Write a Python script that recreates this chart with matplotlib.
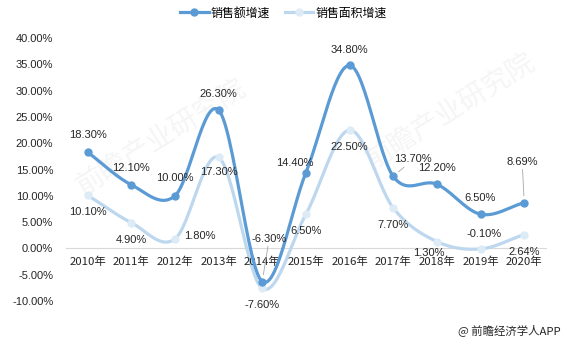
import matplotlib
matplotlib.use("Agg")
import matplotlib.pyplot as plt
from matplotlib.lines import Line2D
import numpy as np

plt.rcParams['font.family'] = ['Liberation Sans', 'Noto Sans CJK SC', 'DejaVu Sans']

# datos
anios = ['2010年', '2011年', '2012年', '2013年', '2014年', '2015年',
         '2016年', '2017年', '2018年', '2019年', '2020年']
ventas = [18.3, 12.1, 10.0, 26.3, -6.3, 14.4, 34.8, 13.7, 12.2, 6.5, 8.69]
area = [10.1, 4.9, 1.8, 17.3, -7.6, 6.5, 22.5, 7.7, 1.3, -0.1, 2.64]
etiq_ventas = ['18.30%', '12.10%', '10.00%', '26.30%', '-6.30%', '14.40%',
               '34.80%', '13.70%', '12.20%', '6.50%', '8.69%']
etiq_area = ['10.10%', '4.90%', '1.80%', '17.30%', '-7.60%', '6.50%',
             '22.50%', '7.70%', '1.30%', '-0.10%', '2.64%']
yticks = [-10, -5, 0, 5, 10, 15, 20, 25, 30, 35, 40]

# desplazamiento de etiquetas (pixeles)
off_ventas = [(0, 17), (0, 17), (0, 18), (0, 16), (7, 43), (-11, 10),
              (0, 15), (20, 17), (0, 16), (0, 16), (-2, 41)]
off_area = [(0, -17), (0, -17), (25, 3), (0, -15), (0, -17), (0, -17),
            (0, -17), (0, -17), (-8, -11), (4, 15), (0, -17)]
guia_ventas = [4, 7, 10]

azul = '#5B9BD5'
azul_claro = '#BDD7EE'
texto = '#262626'
tam = 8
cjk = ['Noto Sans CJK SC']


def suavizar(x, y, n=30):
    """Curva suave tipo Excel (Catmull-Rom) que pasa por los puntos."""
    x = np.asarray(x, float)
    y = np.asarray(y, float)
    px = np.concatenate([[2 * x[0] - x[1]], x, [2 * x[-1] - x[-2]]])
    py = np.concatenate([[2 * y[0] - y[1]], y, [2 * y[-1] - y[-2]]])
    xs, ys = [], []
    t = np.linspace(0, 1, n)
    for i in range(1, len(px) - 2):
        for p, out in ((px, xs), (py, ys)):
            p0, p1, p2, p3 = p[i - 1], p[i], p[i + 1], p[i + 2]
            m1 = (p2 - p0) / 2
            m2 = (p3 - p1) / 2
            h = ((2 * t**3 - 3 * t**2 + 1) * p1 + (t**3 - 2 * t**2 + t) * m1
                 + (-2 * t**3 + 3 * t**2) * p2 + (t**3 - t**2) * m2)
            out.extend(h)
    return np.array(xs), np.array(ys)


fig = plt.figure(figsize=(5.67, 3.44), dpi=100)
ax = fig.add_axes([0.116, 0.125, 0.847, 0.7645])

x = np.arange(len(anios))

# marca de agua
ax.text(0.2, 0.62, '前瞻产业研究院', transform=ax.transAxes, fontsize=20,
        color='#F5F5F5', rotation=32, ha='center', va='center', zorder=0, family=cjk)
ax.text(0.8, 0.72, '前瞻产业研究院', transform=ax.transAxes, fontsize=20,
        color='#F5F5F5', rotation=32, ha='center', va='center', zorder=0, family=cjk)

xs, ys = suavizar(x, area)
ax.plot(xs, ys, color=azul_claro, lw=2.3, solid_capstyle='round', zorder=3)
ax.plot(x, area, 'o', color='#DDEBF7', ms=5, zorder=4)
xs, ys = suavizar(x, ventas)
ax.plot(xs, ys, color=azul, lw=2.3, solid_capstyle='round', zorder=5)
ax.plot(x, ventas, 'o', color=azul, ms=5, zorder=6)

for i in range(len(x)):
    dx, dy = off_ventas[i]
    props = dict(arrowstyle='-', color='#A6A6A6', lw=0.6, shrinkA=0, shrinkB=5) if i in guia_ventas else None
    ax.annotate(etiq_ventas[i], (x[i], ventas[i]), xytext=(dx, dy),
                textcoords='offset pixels', ha='center', va='center',
                fontsize=tam, color=texto, arrowprops=props, zorder=7)
    dx, dy = off_area[i]
    ax.annotate(etiq_area[i], (x[i], area[i]), xytext=(dx, dy),
                textcoords='offset pixels', ha='center', va='center',
                fontsize=tam, color=texto, zorder=7)

ax.set_xlim(-0.5, len(anios) - 0.5)
ax.set_ylim(-10, 40)
ax.set_yticks(yticks)
ax.set_yticklabels([f'{v:.2f}%' for v in yticks], fontsize=tam, color=texto)
ax.set_xticks(x)
ax.set_xticklabels([])
# etiquetas del eje x junto a la linea de cero
for i in range(len(x)):
    ax.annotate(anios[i], (x[i], 0), xytext=(0, -13), textcoords='offset pixels',
                ha='center', va='center', fontsize=8.2, color=texto, family=cjk)
for s in ['top', 'right', 'left']:
    ax.spines[s].set_visible(False)
ax.spines['bottom'].set_position(('data', 0))
ax.spines['bottom'].set_color('#D9D9D9')
ax.tick_params(axis='both', length=0)
ax.tick_params(axis='y', pad=9)
ax.patch.set_alpha(0)

h1 = Line2D([], [], color=azul, lw=2.3, marker='o', ms=5)
h2 = Line2D([], [], color=azul_claro, lw=2.3, marker='o', ms=5, mfc='#DDEBF7', mec='#DDEBF7')
fig.legend([h1, h2], ['销售额增速', '销售面积增速'], loc='center', bbox_to_anchor=(0.5, 0.962),
           ncol=2, frameon=False, prop={'family': cjk, 'size': 8.6}, handlelength=2.4,
           handletextpad=0.2, columnspacing=1.2)

fig.text(0.988, 0.04, '@ 前瞻经济学人APP', ha='right', va='center', fontsize=8.2,
         color=texto, family=cjk)

plt.savefig('out.png', dpi=100)
